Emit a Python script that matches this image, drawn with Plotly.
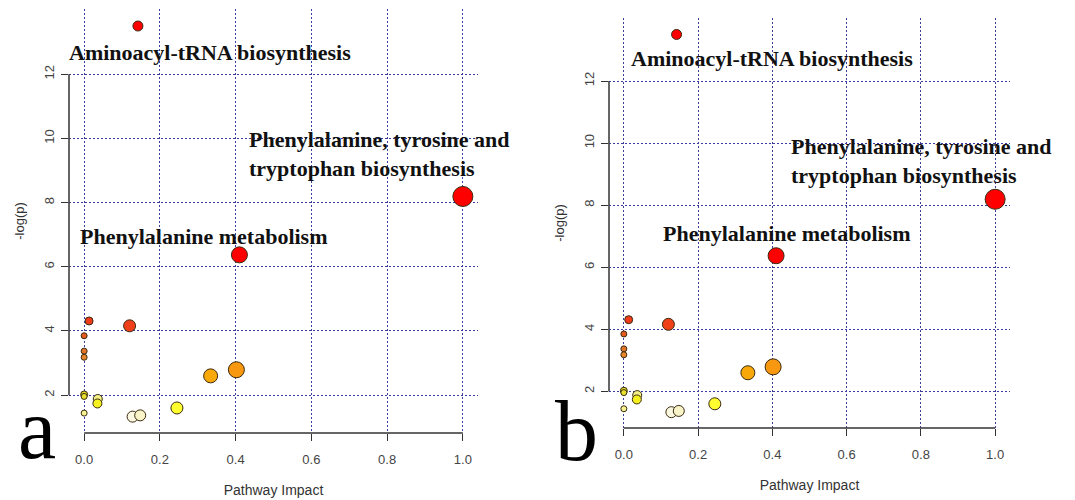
import plotly.graph_objects as go

# ---- data ----
impact = [0.142, 1.0, 0.41, 0.013, 0.12, 0.0, 0.0, 0.0, 0.0, 0.0, 0.036, 0.035, 0.0, 0.128, 0.148, 0.245, 0.334, 0.402]
neglogp = [13.50, 8.19, 6.37, 4.31, 4.16, 3.85, 3.37, 3.18, 2.02, 1.96, 1.88, 1.74, 1.44, 1.33, 1.37, 1.60, 2.60, 2.79]
marker_size = [10, 20, 16, 8, 12, 6, 6, 6, 7, 6, 9, 9, 6, 11, 11, 12, 14, 16]
marker_color = ["#ff0000", "#ff0000", "#ff0000", "#ef3b1a", "#f0401a", "#e55a1e", "#e07428", "#e8852a",
                "#e0d820", "#e8e030", "#f4f088", "#f5f020", "#f5f290", "#faf8e0", "#f8f4c8", "#ffff30",
                "#f8a808", "#f89810"]

x_ticks = [0.0, 0.2, 0.4, 0.6, 0.8, 1.0]
y_ticks = [2, 4, 6, 8, 10, 12]

labels = ["Aminoacyl-tRNA biosynthesis",
          "Phenylalanine, tyrosine and<br>tryptophan biosynthesis",
          "Phenylalanine metabolism"]
# label anchor (x, y, xshift px) : left edge / vertical centre
label_pos_a = [(0.0, 12.69, -17), (0.43, 9.5, 0), (0.0, 6.93, -6)]
label_pos_b = [(0.013, 12.73, 0), (0.445, 9.43, 0), (0.10, 7.10, 0)]
panel_letters = ["a", "b"]

W, H = 1075, 500
grid_col = "#3c3c9a"
axis_col = "#333333"

fig = go.Figure()

panels = [
    dict(xa="x", ya="y", xd=[69 / W, 478 / W], yd=[1 - 433 / H, 1 - 9 / H], lab=label_pos_a),
    dict(xa="x2", ya="y2", xd=[609 / W, 1010 / W], yd=[1 - 428 / H, 1 - 18 / H], lab=label_pos_b),
]

xr = [-0.04, 1.04]
yr = [0.82, 14.03]

for i, p in enumerate(panels):
    fig.add_trace(go.Scatter(
        x=impact, y=neglogp, mode="markers",
        marker=dict(size=marker_size, color=marker_color,
                    line=dict(color="#3a2a10", width=1), opacity=1),
        xaxis=p["xa"], yaxis=p["ya"], showlegend=False, hoverinfo="x+y"))
    sfx = "" if i == 0 else "2"
    fig.layout["xaxis" + sfx] = dict(
        domain=p["xd"], range=xr, anchor=p["ya"], tickvals=x_ticks,
        ticktext=[f"{v:.1f}" for v in x_ticks], showgrid=True, gridcolor=grid_col,
        griddash="2px,2px", gridwidth=1, zeroline=False, showline=False,
        ticks="outside", ticklen=7, tickcolor=axis_col, tickwidth=1,
        ticklabelstandoff=7,
        tickfont=dict(family="Liberation Sans, Arial", size=13, color="#444444"),
        title=dict(text="Pathway Impact", standoff=19,
                   font=dict(family="Liberation Sans, Arial", size=14, color="#333333")),
        fixedrange=True)
    fig.layout["yaxis" + sfx] = dict(
        domain=p["yd"], range=yr, anchor=p["xa"], tickvals=y_ticks,
        showgrid=True, gridcolor=grid_col, griddash="2px,2px", gridwidth=1,
        zeroline=False, showline=False, ticks="outside", ticklen=7,
        tickcolor=axis_col, tickwidth=1, tickangle=-90, ticklabelstandoff=2,
        tickfont=dict(family="Liberation Sans, Arial", size=13, color="#444444"),
        title=dict(text="-log(p)", standoff=14,
                   font=dict(family="Liberation Sans, Arial", size=13, color="#333333")),
        fixedrange=True)
    # R-style axis lines spanning first to last tick
    fig.add_shape(type="line", xref=p["xa"] + " domain", yref=p["ya"], x0=0, x1=0,
                  y0=y_ticks[0], y1=y_ticks[-1], line=dict(color=axis_col, width=1.5))
    fig.add_shape(type="line", xref=p["xa"], yref=p["ya"] + " domain", y0=0, y1=0,
                  x0=x_ticks[0], x1=x_ticks[-1], line=dict(color=axis_col, width=1.5))
    for txt, (lx, ly, sh) in zip(labels, p["lab"]):
        fig.add_annotation(x=lx, y=ly, xref=p["xa"], yref=p["ya"], text="<b>" + txt + "</b>",
                           showarrow=False, xanchor="left", yanchor="middle", align="left",
                           xshift=sh,
                           font=dict(family="Liberation Serif, Times New Roman", size=22, color="#111111"))

fig.add_annotation(x=16 / W, y=1 - 479 / H, xref="paper", yref="paper", text=panel_letters[0],
                   showarrow=False, xanchor="left", yanchor="bottom",
                   font=dict(family="Liberation Serif, Times New Roman", size=86, color="#000000"))
fig.add_annotation(x=553 / W, y=1 - 481 / H, xref="paper", yref="paper", text=panel_letters[1],
                   showarrow=False, xanchor="left", yanchor="bottom",
                   font=dict(family="Liberation Serif, Times New Roman", size=86, color="#000000"))

fig.update_layout(width=W, height=H, margin=dict(l=0, r=0, t=0, b=0),
                  paper_bgcolor="white", plot_bgcolor="white", showlegend=False)

fig.write_html("out.html", config={"displayModeBar": False})
